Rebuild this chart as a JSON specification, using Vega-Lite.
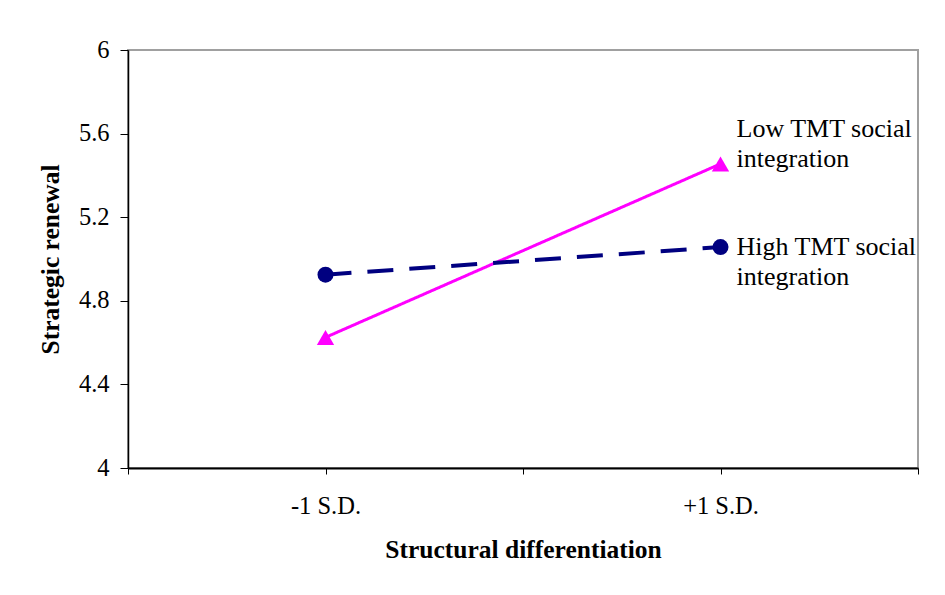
{
  "$schema": "https://vega.github.io/schema/vega-lite/v6.json",
  "width": 790,
  "height": 418,
  "autosize": {"type": "none"},
  "padding": {"left": 128, "top": 50, "right": 27, "bottom": 127},
  "background": "white",
  "config": {
    "view": {"stroke": "#a0a0a0", "strokeWidth": 2},
    "font": "Liberation Serif"
  },
  "data": {
    "values": [
      {"sd": -1, "renewal": 4.625, "group": "Low TMT social integration", "label": ""},
      {"sd": 1, "renewal": 5.455, "group": "Low TMT social integration", "label": "Low TMT social\nintegration"},
      {"sd": -1, "renewal": 4.925, "group": "High TMT social integration", "label": ""},
      {"sd": 1, "renewal": 5.057, "group": "High TMT social integration", "label": "High TMT social\nintegration"}
    ]
  },
  "encoding": {
    "x": {
      "field": "sd",
      "type": "quantitative",
      "scale": {"domain": [-2, 2], "nice": false, "zero": false},
      "axis": {
        "values": [-2, -1, 0, 1, 2],
        "labelExpr": "datum.value == -1 ? '-1 S.D.' : datum.value == 1 ? '+1 S.D.' : ''",
        "labelOverlap": false,
        "labelFlush": false,
        "grid": false,
        "tickSize": 6,
        "tickColor": "black",
        "domainColor": "black",
        "domainWidth": 2,
        "labelFontSize": 24.5,
        "labelColor": "black",
        "labelPadding": 20,
        "title": "Structural differentiation",
        "titleFontSize": 25.5,
        "titleFontWeight": "bold",
        "titleColor": "black",
        "titlePadding": 20
      }
    },
    "y": {
      "field": "renewal",
      "type": "quantitative",
      "scale": {"domain": [4, 6], "nice": false, "zero": false},
      "axis": {
        "values": [4, 4.4, 4.8, 5.2, 5.6, 6],
        "format": "~g",
        "grid": false,
        "tickSize": 8,
        "tickColor": "black",
        "domainColor": "black",
        "domainWidth": 1.5,
        "labelFontSize": 24.5,
        "labelColor": "black",
        "labelPadding": 11,
        "title": "Strategic renewal",
        "titleFontSize": 25.5,
        "titleFontWeight": "bold",
        "titleColor": "black",
        "titlePadding": 15
      }
    }
  },
  "layer": [
    {
      "mark": {"type": "line", "strokeCap": "butt"},
      "encoding": {
        "detail": {"field": "group"},
        "color": {
          "field": "group",
          "scale": {"domain": ["Low TMT social integration", "High TMT social integration"], "range": ["#ff00ff", "#000080"]},
          "legend": null
        },
        "strokeDash": {
          "field": "group",
          "scale": {"domain": ["Low TMT social integration", "High TMT social integration"], "range": [[1, 0], [26, 16]]},
          "legend": null
        },
        "strokeWidth": {
          "field": "group",
          "scale": {"domain": ["Low TMT social integration", "High TMT social integration"], "range": [3, 4]},
          "legend": null
        }
      }
    },
    {
      "mark": {"type": "point", "filled": true, "opacity": 1},
      "encoding": {
        "color": {"field": "group", "legend": null},
        "shape": {
          "field": "group",
          "scale": {"domain": ["Low TMT social integration", "High TMT social integration"], "range": ["triangle-up", "circle"]},
          "legend": null
        },
        "size": {
          "field": "group",
          "scale": {"domain": ["Low TMT social integration", "High TMT social integration"], "range": [300, 256]},
          "legend": null
        }
      }
    },
    {
      "transform": [{"filter": "datum.sd == 1 && datum.group == 'Low TMT social integration'"}],
      "mark": {"type": "text", "align": "left", "baseline": "alphabetic", "dx": 16, "dy": -27, "fontSize": 26, "lineHeight": 30, "lineBreak": "\n", "color": "black"},
      "encoding": {"text": {"field": "label"}}
    },
    {
      "transform": [{"filter": "datum.sd == 1 && datum.group == 'High TMT social integration'"}],
      "mark": {"type": "text", "align": "left", "baseline": "alphabetic", "dx": 16, "dy": 8, "fontSize": 26, "lineHeight": 30, "lineBreak": "\n", "color": "black"},
      "encoding": {"text": {"field": "label"}}
    }
  ]
}
